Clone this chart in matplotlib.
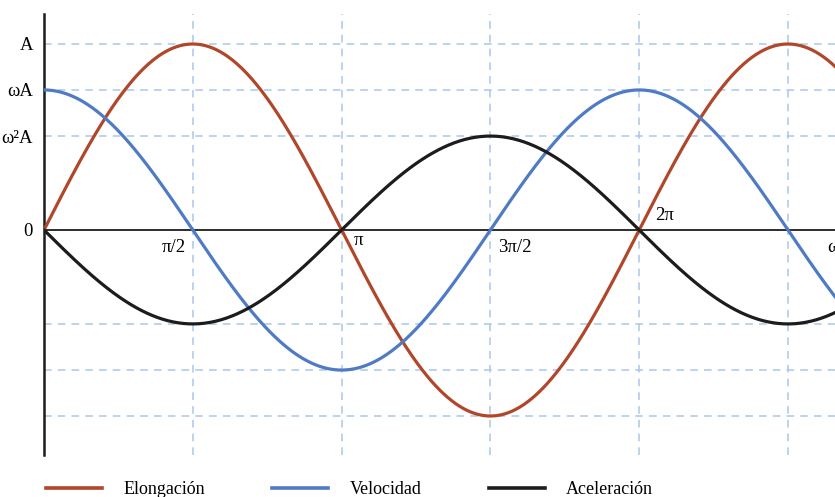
import numpy as np
import matplotlib.pyplot as plt
from matplotlib.lines import Line2D

plt.rcParams['font.family'] = ['Liberation Serif', 'DejaVu Serif']

# amplitudes (A = 1)
amp_elong = 1.0      # A
amp_vel = 0.753      # wA
amp_acc = 0.505      # w^2 A

y_levels = [amp_elong, amp_vel, amp_acc]
y_labels = ['A', 'ωA', 'ω²A']
x_marks = [np.pi / 2, np.pi, 3 * np.pi / 2, 2 * np.pi, 5 * np.pi / 2]
x_labels = ['π/2', 'π', '3π/2', '2π']
legend_names = ['Elongación', 'Velocidad', 'Aceleración']
colors = ['#B0472B', '#4F7BC4', '#1C1C1C']

t = np.linspace(0, 8.4, 600)
elong = amp_elong * np.sin(t)
vel = amp_vel * np.cos(t)
acc = -amp_acc * np.sin(t)

fig = plt.figure(figsize=(8.35, 4.97), dpi=100)
ax = fig.add_axes([44 / 835, 42 / 497, 791 / 835, 441 / 497])
xmax = 791 / 94.73
ax.set_xlim(0, xmax)
ax.set_ylim(-225 / 186, 216 / 186)

grid_kw = dict(color='#A9C8EA', lw=1.1, ls=(0, (5, 4)), zorder=1)
for lv in y_levels:
    ax.axhline(lv, **grid_kw)
    ax.axhline(-lv, **grid_kw)
for xm in x_marks:
    ax.axvline(xm, **grid_kw)

ax.axhline(0, color='#1C1C1C', lw=1.3, zorder=2)

for y, c in zip([elong, vel, acc], colors):
    ax.plot(t, y, color=c, lw=2.3, zorder=3)

for s in ['top', 'right', 'bottom']:
    ax.spines[s].set_visible(False)
ax.spines['left'].set_linewidth(1.8)
ax.spines['left'].set_color('#1C1C1C')
ax.set_xticks([])
ax.set_yticks([amp_elong, amp_vel, amp_acc, 0])
ax.set_yticklabels(y_labels + ['0'], fontsize=13.5)
ax.tick_params(axis='y', length=0, pad=8)

# x labels around the crossings
fs = 13.5
ax.text(x_marks[0] - 0.07, -0.05, x_labels[0], ha='right', va='top', fontsize=fs)
ax.text(x_marks[1] + 0.13, -0.01, x_labels[1], ha='left', va='top', fontsize=fs)
ax.text(x_marks[2] + 0.08, -0.05, x_labels[2], ha='left', va='top', fontsize=fs)
ax.text(x_marks[3] + 0.17, 0.03, x_labels[3], ha='left', va='bottom', fontsize=fs)
ax.text(8.27, -0.05, 'ωt', ha='left', va='top', fontsize=fs, clip_on=False)

handles = [Line2D([], [], color=c, lw=2.6) for c in colors]
fig.legend(handles, legend_names, loc='lower left', bbox_to_anchor=(30 / 835, -0.035),
           ncol=3, frameon=False, fontsize=13, handlelength=3.1,
           handletextpad=1.2, columnspacing=3.7)

fig.savefig('out.png', dpi=100)
